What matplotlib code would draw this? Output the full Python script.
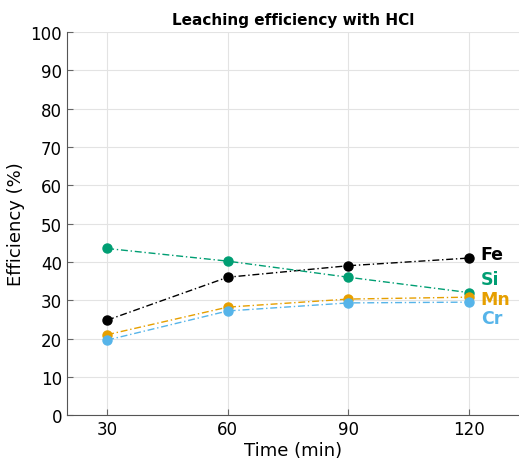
import matplotlib.pyplot as plt

time = [30, 60, 90, 120]
fe = [24.8, 36.0, 39.0, 41.0]
si = [43.5, 40.2, 36.0, 32.0]
mn = [21.0, 28.2, 30.3, 30.8]
cr = [19.6, 27.2, 29.3, 29.5]

series = [
    ("Fe", fe, "black", 42.0),
    ("Si", si, "#009E73", 35.6),
    ("Mn", mn, "#E69F00", 30.4),
    ("Cr", cr, "#56B4E9", 25.4),
]

fig = plt.figure(figsize=(5.19, 4.64), dpi=100)
ax = fig.add_axes([0.129, 0.103, 0.871, 0.826])

for name, vals, color, ylab in series:
    ax.plot(time, vals, linestyle=(0, (5, 2, 1, 2)), color=color, linewidth=1.0,
            marker="o", markersize=6.5)
    ax.text(123, ylab, name, color=color, fontsize=12.5, fontweight="bold",
            va="center", ha="left")

ax.set_xlim(20, 132.5)
ax.set_ylim(0, 100)
ax.set_xticks(time)
ax.set_yticks(range(0, 101, 10))
ax.tick_params(direction="in", labelsize=12, color="#666666", length=4)
ax.grid(True, color="#e3e3e3", linewidth=0.8)
ax.set_axisbelow(True)
for side in ["top", "right"]:
    ax.spines[side].set_visible(False)
for side in ["left", "bottom"]:
    ax.spines[side].set_color("#555555")

ax.set_xlabel("Time (min)", fontsize=13, labelpad=2)
ax.set_ylabel("Efficiency (%)", fontsize=13)
ax.set_title("Leaching efficiency with HCl", fontsize=11, fontweight="bold", pad=6)

fig.savefig("out.png", dpi=100)
